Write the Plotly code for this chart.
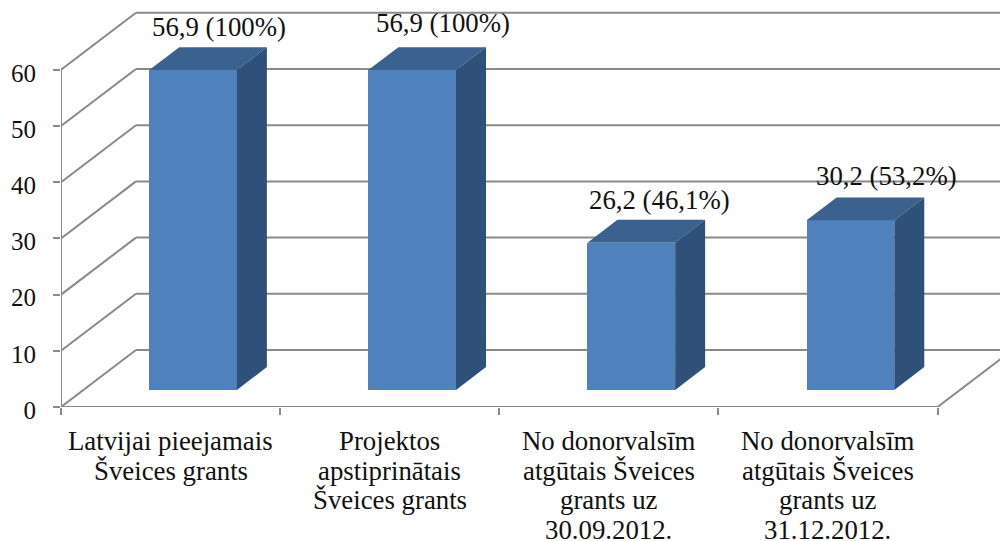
import plotly.graph_objects as go

categories = ["Latvijai pieejamais<br>Šveices grants",
              "Projektos<br>apstiprinātais<br>Šveices grants",
              "No donorvalsīm<br>atgūtais Šveices<br>grants uz<br>30.09.2012.",
              "No donorvalsīm<br>atgūtais Šveices<br>grants uz<br>31.12.2012."]
values = [56.9, 56.9, 26.2, 30.2]
value_labels = ["56,9 (100%)", "56,9 (100%)", "26,2 (46,1%)", "30,2 (53,2%)"]
y_ticks = [0, 10, 20, 30, 40, 50, 60]

# pixel geometry of the oblique projection
W, H = 1000, 541
L, B = 60.5, 407
PX_X, PX_Y = 219.25, 5.62
DEPTH_X, DEPTH_Y = 75 / PX_X, 57 / PX_Y   # data units for the full floor depth
D0, D1 = 0.3, 0.7                          # bar depth span
BW = 0.4
FONT = "Liberation Serif"
FS = 26.8
FS_Y = 25
TXT = "#111111"
GRID = "#8a8a8a"
FRONT, TOP, SIDE = "#4f81bd", "#3b618f", "#2f5078"
n = len(categories)

def proj(x, v, d):
    return x + d * DEPTH_X, v + d * DEPTH_Y

fig = go.Figure()

# walls and floor (below the bars)
shapes = []
def seg(p, q):
    shapes.append(dict(type="line", xref="x", yref="y", layer="below",
                       x0=p[0], y0=p[1], x1=q[0], y1=q[1],
                       line=dict(color=GRID, width=2)))
for v in y_ticks:
    seg(proj(0, v, 0), proj(0, v, 1))
    seg(proj(0, v, 1), proj(n, v, 1))
seg((0, 0), (0, max(y_ticks)))
seg((0, 0), (n, 0))
seg(proj(n, 0, 0), proj(n, 0, 1))

# front faces
centers = [i + 0.5 for i in range(n)]
bar_x = [c + 0.5 * DEPTH_X * (D0 + D1) - 0.5 * (D1 - D0) * DEPTH_X for c in centers]
fig.add_trace(go.Bar(
    x=bar_x, y=values, base=D0 * DEPTH_Y, width=BW,
    marker=dict(color=FRONT, line=dict(width=0)), showlegend=False, hoverinfo="skip"))

# top and side faces
def p2(x, val, d):
    return x + (d - D0) * DEPTH_X, val + d * DEPTH_Y

for cx, v in zip(bar_x, values):
    xl, xr = cx - BW / 2, cx + BW / 2
    pts_top = [p2(xl, v, D0), p2(xr, v, D0), p2(xr, v, D1), p2(xl, v, D1)]
    pts_side = [p2(xr, 0, D0), p2(xr, v, D0), p2(xr, v, D1), p2(xr, 0, D1)]
    for pts, col in ((pts_top, TOP), (pts_side, SIDE)):
        xs = [p[0] for p in pts] + [pts[0][0]]
        ys = [p[1] for p in pts] + [pts[0][1]]
        fig.add_trace(go.Scatter(x=xs, y=ys, mode="lines", fill="toself", fillcolor=col,
                                 line=dict(width=0, color=col), showlegend=False, hoverinfo="skip"))

# value labels, placed relative to each bar's top
label_dx = [48.5, 53.5, 50.5, 58.5]
label_dy = [43, 47, 43, 44]
annotations = []
for c, v, t, dx, dy in zip(centers, values, value_labels, label_dx, label_dy):
    annotations.append(dict(x=c, y=v + D0 * DEPTH_Y, xref="x", yref="y", text=t,
                            showarrow=False, xanchor="center", yanchor="middle",
                            xshift=dx, yshift=dy, font=dict(family=FONT, size=FS, color=TXT)))

# category labels, one annotation per line for the tighter line spacing
for c, cat in zip(centers, categories):
    for k, line in enumerate(cat.split("<br>")):
        annotations.append(dict(x=c, y=0, xref="x", yref="y", text=line, showarrow=False,
                                xanchor="center", yanchor="middle", yshift=-(34 + 29.6 * k),
                                font=dict(family=FONT, size=FS, color=TXT)))

fig.update_layout(
    width=W, height=H, autosize=False,
    margin=dict(l=L, r=0, t=0, b=H - B, pad=0),
    paper_bgcolor="white", plot_bgcolor="white",
    showlegend=False, shapes=shapes, annotations=annotations,
    bargap=0,
    xaxis=dict(range=[0, (W - L) / PX_X], showgrid=False, zeroline=False, showline=False,
               tickmode="array", tickvals=list(range(n + 1)), ticktext=[""] * (n + 1),
               ticks="outside", ticklen=7, tickwidth=2, tickcolor=GRID),
    yaxis=dict(range=[0, B / PX_Y], showgrid=False, zeroline=False, showline=False,
               tickmode="array", tickvals=y_ticks, ticktext=[str(t) for t in y_ticks],
               ticks="outside", ticklen=7, tickwidth=2, tickcolor=GRID,
               ticklabelstandoff=12, ticklabelshift=3,
               tickfont=dict(family=FONT, size=FS_Y, color=TXT)),
)

fig.write_html("out.html", config={"displayModeBar": False},
               post_script="document.body.style.margin='0';document.body.style.overflow='hidden';")
